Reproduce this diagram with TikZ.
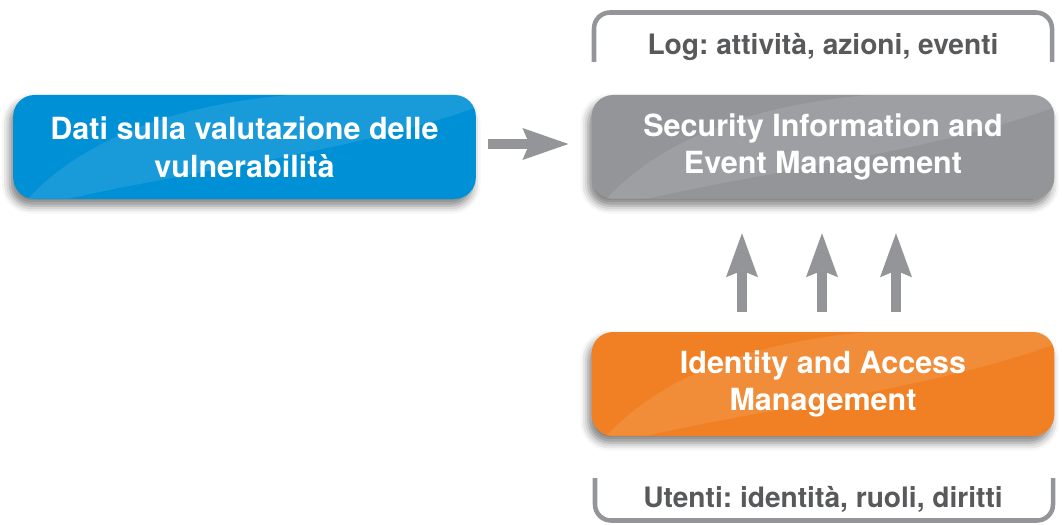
\documentclass[tikz,border=0pt]{standalone}
\usepackage{fontspec}
\setmainfont{TeX Gyre Heros}
\usetikzlibrary{calc,arrows.meta,shadows.blur}
\frenchspacing

\definecolor{boxblue}{RGB}{0,144,213}
\definecolor{boxgray}{RGB}{147,149,152}
\definecolor{boxorange}{RGB}{240,128,35}
\definecolor{linkgray}{RGB}{147,149,152}
\definecolor{labelgray}{RGB}{88,89,91}

\tikzset{
  panel/.style={
    fill=#1, rounded corners=16pt,
    minimum width=347pt, minimum height=78pt, inner sep=0pt,
    align=center, text=white,
    font=\bfseries\fontsize{22.9pt}{28.3pt}\selectfont,
    blur shadow={shadow xshift=-2.5pt, shadow yshift=-5pt,
                 shadow blur radius=6pt, shadow opacity=50}
  },
  sheen/.style={fill=white, opacity=0.10},
  caption/.style={
    text=labelgray, inner sep=0pt,
    font=\bfseries\fontsize{21.1pt}{25pt}\selectfont
  },
  bracket/.style={draw=linkgray, line width=3.4pt, rounded corners=12pt},
  flowh/.style={draw=linkgray, line width=7pt,
    -{Stealth[length=34.5pt, width=24pt, inset=5.25pt, line width=0pt]}},
  flowv/.style={draw=linkgray, line width=8pt,
    -{Stealth[length=33pt, width=24pt, inset=5pt, line width=0pt]}}
}

\begin{document}
\begin{tikzpicture}[x=0.75pt, y=-0.75pt]
  \useasboundingbox (0,0) rectangle (1062,524);

  % main panels
  \node[panel=boxblue]   (dati) at (244.5,147) {Dati sulla valutazione delle\\vulnerabilità};
  \node[panel=boxgray]   (siem) at (823,147)   {Security Information and\\Event Management};
  \node[panel=boxorange] (iam)  at (823,384)   {Identity and Access\\Management};

  % light diagonal sheen across each panel, kept inside its rounded outline
  \foreach \p in {dati,siem,iam}{
    \begin{scope}
      \clip[rounded corners=16pt] (\p.south west) rectangle (\p.north east);
      \fill[sheen]
        ($(\p.north west)+(15,104)$)
          .. controls ($(\p.north west)+(70,45)$) and ($(\p.north west)+(160,10)$)
          .. ($(\p.north west)+(280,0)$)
        -- ($(\p.north west)+(470,-5)$) -- ($(\p.north west)+(470,10)$)
          .. controls ($(\p.north west)+(350,55)$) and ($(\p.north west)+(200,72)$)
          .. ($(\p.north west)+(55,104)$) -- cycle;
    \end{scope}
  }

  % captions with their open brackets
  \node[caption, anchor=base] (logtxt) at (823,55)  {Log: attività, azioni, eventi};
  \node[caption, anchor=base] (usrtxt) at (823,507) {Utenti: identità, ruoli, diritti};

  \draw[bracket] (594,62) |- (823,12.5) -| (1052,62);
  \draw[bracket] (595,478) |- (823,520.5) -| (1053,478);

  % data flows into the SIEM
  \draw[flowh] ($(dati.east)+(12,-3)$) -- ($(siem.west)+(-23,-3)$);
  \draw[flowv] ($(iam.north)+(-81,-20)$) -- ($(siem.south)+(-81,34)$);
  \draw[flowv] ($(iam.north)+(-1,-20)$)  -- ($(siem.south)+(-1,34)$);
  \draw[flowv] ($(iam.north)+(73,-20)$)  -- ($(siem.south)+(73,34)$);
\end{tikzpicture}
\end{document}
